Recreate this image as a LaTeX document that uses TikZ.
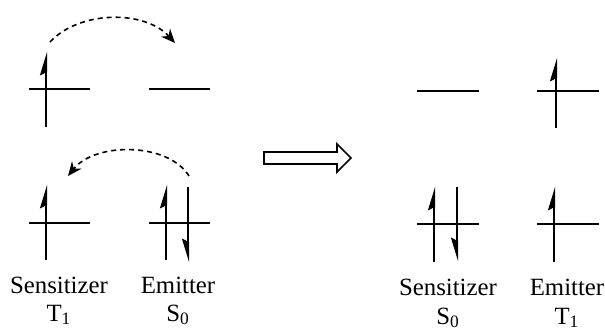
\documentclass[tikz,border=0pt]{standalone}
\usepackage{fontspec}
\setmainfont{Liberation Serif}
\usetikzlibrary{arrows.meta, positioning}

\begin{document}
\begin{tikzpicture}[x=0.5pt, y=-0.5pt,
        level/.style={line width=1pt},
        spinup/.style={line width=1pt, -{Stealth[harpoon, length=10pt, width=6pt, inset=1.5pt]}},
        spindown/.style={line width=1pt, -{Stealth[harpoon, swap, length=10pt, width=6pt, inset=1.5pt]}},
        hop/.style={line width=0.8pt, dash pattern=on 2.5pt off 2pt, -{Stealth[length=7pt, width=6pt]}},
        lbl/.style={font=\fontsize{12.4}{14}\selectfont, inner sep=0pt}]
    \useasboundingbox (0,0) rectangle (605,332);
    % before transfer
    \draw[level] (29,89) -- (90,89);
    \draw[level] (149,89) -- (210,89);
    \draw[spinup] (46,127) -- (46,52);
    \draw[level] (29,223) -- (90,223);
    \draw[level] (149,223) -- (210,223);
    \draw[spinup] (46,260) -- (46,185);
    \draw[spinup] (166,260) -- (166,185);
    \draw[spindown] (188,187) -- (188,262);
    \coordinate (a1) at (50,42);
    \coordinate (a2) at (175,43);
    \coordinate (b1) at (189,176);
    \coordinate (b2) at (68,176);
    \draw[hop] (a1) .. controls (80,10) and (145,10) .. (a2);
    \draw[hop] (b1) .. controls (168,142) and (95,142) .. (b2);
    \node[lbl] (sens) at (59,285) {Sensitizer};
    \node[lbl] (emit) at (178,285) {Emitter};
    \node[lbl] (sT) at (59,315) {T\textsubscript{1}};
    \node[lbl] (eS) at (178,315) {S\textsubscript{0}};
    % hollow arrow
    \draw[line width=0.8pt] (264,152) -- (337,152) -- (337,144) -- (351,158)
        -- (337,172) -- (337,164) -- (264,164) -- cycle;
    % after transfer
    \draw[level] (417,91) -- (479,91);
    \draw[level] (537,91) -- (599,91);
    \draw[spinup] (556,128) -- (556,58);
    \draw[level] (417,224) -- (479,224);
    \draw[level] (537,224) -- (599,224);
    \draw[spinup] (434,262) -- (434,187);
    \draw[spindown] (457,187) -- (457,261);
    \draw[spinup] (554,262) -- (554,187);
    \node[lbl] (sens2) at (448,287) {Sensitizer};
    \node[lbl] (emit2) at (567,287) {Emitter};
    \node[lbl] (sS) at (448,318) {S\textsubscript{0}};
    \node[lbl] (eT) at (567,318) {T\textsubscript{1}};
\end{tikzpicture}
\end{document}
